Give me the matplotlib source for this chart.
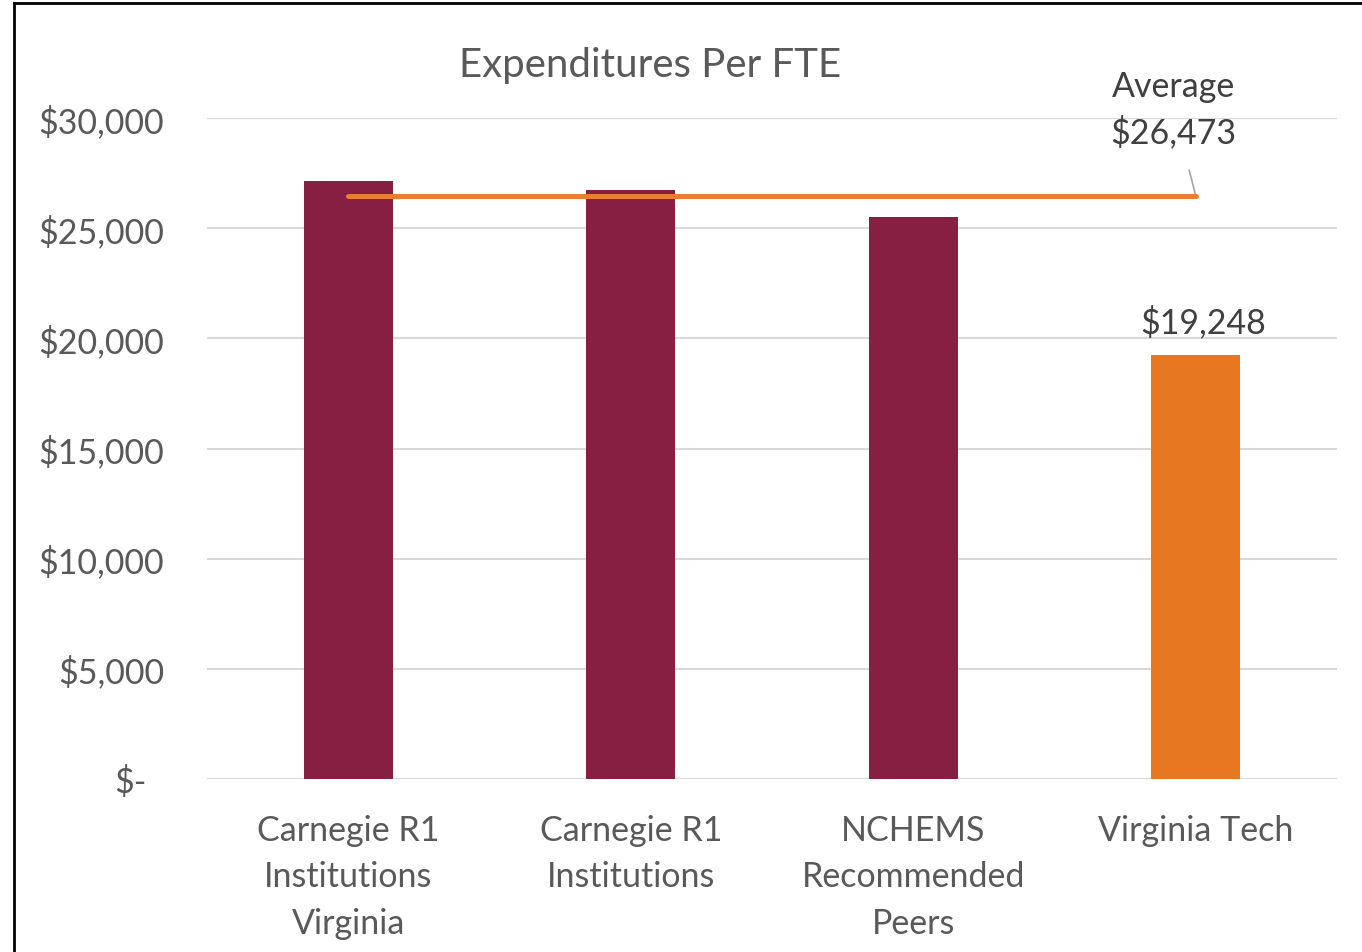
import matplotlib
matplotlib.use("Agg")
import matplotlib.pyplot as plt
from matplotlib.transforms import ScaledTranslation
from matplotlib.ticker import FixedLocator

categories = ["Carnegie R1\nInstitutions\nVirginia", "Carnegie R1\nInstitutions",
              "NCHEMS\nRecommended\nPeers", "Virginia Tech"]
values = [27150, 26740, 25510, 19248]
bar_colors = ["#861F41", "#861F41", "#861F41", "#E87722"]
average = 26473
yticks = [0, 5000, 10000, 15000, 20000, 25000, 30000]
ytick_labels = ["$-", "$5,000", "$10,000", "$15,000", "$20,000", "$25,000", "$30,000"]

TXT = "#595959"
FONT = "Lato"
FS = 24.5

fig = plt.figure(figsize=(13.62, 9.53), dpi=100)
ax = fig.add_axes([207/1362, 1-780/953, 1130/1362, 661/953])
x = list(range(len(categories)))
ax.bar(x, values, width=0.315, color=bar_colors, zorder=3)
ax.plot([x[0], x[-1]], [average, average], color="#ED7D31", lw=3.6,
        solid_capstyle="round", zorder=4)

ax.set_xlim(-0.5, 3.5)
ax.set_ylim(0, 30000)
ax.yaxis.set_major_locator(FixedLocator(yticks))
ax.set_yticklabels(ytick_labels, fontsize=FS, color=TXT, family=FONT)
ax.set_xticks(x)
ax.set_xticklabels(categories, fontsize=FS, color=TXT, family=FONT, linespacing=1.56)
ax.tick_params(axis="y", length=0, pad=31)
ax.tick_params(axis="x", length=0, pad=25)
ax.grid(axis="y", color="#D9D9D9", lw=1.5, zorder=0)
for s in ax.spines.values():
    s.set_visible(False)

lbl0 = ax.get_yticklabels()[0]
lbl0.set_transform(lbl0.get_transform() + ScaledTranslation(-0.17, 0, fig.dpi_scale_trans))

# data label on Virginia Tech
ax.annotate(f"${values[3]:,}", (x[3], values[3]), xytext=(5, 12), textcoords="offset points",
            ha="center", va="bottom", fontsize=FS, color="#404040", family=FONT)

# average label with leader line
ax.annotate(f"Average\n${average:,}", xy=(x[3], average), xytext=(-16, 34),
            textcoords="offset points", ha="center", va="bottom", fontsize=FS,
            color="#404040", family=FONT, linespacing=1.45,
            arrowprops=dict(arrowstyle="-", color="#A6A6A6", lw=1.2, shrinkA=14, shrinkB=0))

fig.text(650/1362, 1-65/953, "Expenditures Per FTE", ha="center", va="center",
         fontsize=29, color=TXT, family=FONT)

# chart border (left and top visible)
fig.add_artist(plt.Line2D([14/1362, 14/1362], [0, 1-4/953], color="black", lw=2))
fig.add_artist(plt.Line2D([14/1362, 1], [1-4/953, 1-4/953], color="black", lw=2))

fig.savefig("out.png", dpi=100, facecolor="white")
